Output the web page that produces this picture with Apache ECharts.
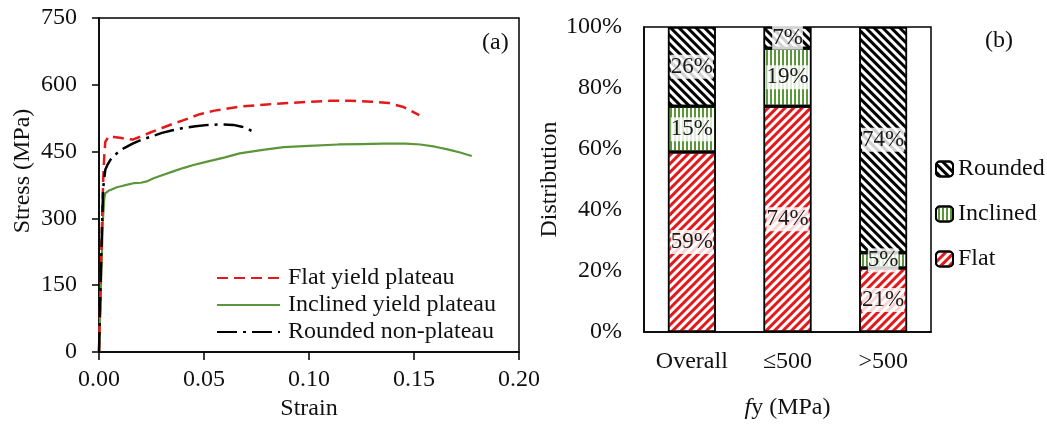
<!DOCTYPE html>
<html>
<head>
<meta charset="utf-8">
<script src="https://cdn.jsdelivr.net/npm/echarts@6/dist/echarts.min.js"></script>
<style>
html,body{margin:0;padding:0;background:#fff;}
#chart{width:1047px;height:427px;}
</style>
</head>
<body>
<div id="chart"></div>
<script>
// ---- Panel (a): stress-strain curves ----
const xTicks = [0, 0.05, 0.10, 0.15, 0.20];
const yTicks = [0, 150, 300, 450, 600, 750];

const flatStrain = [0, 0.0015, 0.002, 0.0025, 0.003, 0.0045, 0.007, 0.010, 0.013, 0.016, 0.020, 0.025, 0.030, 0.035, 0.040, 0.048, 0.055, 0.067, 0.080, 0.090, 0.100, 0.110, 0.120, 0.130, 0.138, 0.145, 0.1525];
const flatStress = [0, 300, 386, 440, 472, 484, 483, 481, 478, 477, 484, 494, 503, 512, 520, 534, 542, 551, 556, 559, 562, 564, 564, 562, 559, 550, 532];

const inclStrain = [0, 0.001, 0.0018, 0.0025, 0.003, 0.0045, 0.006, 0.0085, 0.012, 0.0165, 0.020, 0.0227, 0.026, 0.030, 0.035, 0.040, 0.045, 0.051, 0.060, 0.067, 0.078, 0.088, 0.100, 0.114, 0.125, 0.135, 0.146, 0.153, 0.160, 0.166, 0.172, 0.1775];
const inclStress = [0, 160, 290, 345, 356, 362, 365, 370, 374, 379, 380, 383, 390, 397, 405, 413, 420, 427, 437, 446, 454, 460, 463, 466, 467, 468, 468, 466, 461, 455, 448, 440];

const roundStrain = [0, 0.001, 0.0015, 0.002, 0.0025, 0.003, 0.004, 0.0055, 0.007, 0.009, 0.012, 0.016, 0.020, 0.025, 0.030, 0.035, 0.040, 0.046, 0.052, 0.058, 0.064, 0.068, 0.071, 0.0735];
const roundStress = [0, 200, 290, 368, 390, 409, 420, 432, 440, 448, 458, 468, 476, 484, 492, 498, 503, 507, 510, 511, 510, 506, 501, 494];

const curveNames = ['Flat yield plateau', 'Inclined yield plateau', 'Rounded non-plateau'];

// ---- Panel (b): distribution ----
const groups = ['Overall', '\u2264500', '>500'];
const distTicks = [0, 20, 40, 60, 80, 100];
const flatPct = [59, 74, 21];
const inclinedPct = [15, 19, 5];
const roundedPct = [26, 7, 74];
const barNames = ['Flat', 'Inclined', 'Rounded'];

const FONT = 'Liberation Serif';
const RED = '#e3191c';
const GREEN = '#5b963b';

function pairs(xs, ys) { return xs.map((x, i) => [x, ys[i]]); }

const chart = echarts.init(document.getElementById('chart'), null, {renderer: 'canvas'});

const labelStyle = {
  show: true,
  position: 'inside',
  formatter: p => p.value + '%',
  fontFamily: FONT,
  fontSize: 23,
  color: '#1a1a1a',
  backgroundColor: 'rgba(255,255,255,0.82)',
  padding: [1, 0, 0, 0]
};

function barSeries(name, data, decalColor, rotation, dashY) {
  return {
    name: name,
    type: 'bar',
    stack: 'dist',
    xAxisIndex: 1,
    yAxisIndex: 1,
    barWidth: '50%',
    data: data,
    itemStyle: {
      color: '#ffffff',
      borderColor: '#000',
      borderWidth: 1.5,
      decal: {
        symbol: 'rect',
        symbolSize: 1,
        color: decalColor,
        dashArrayX: [1, 0],
        dashArrayY: dashY,
        rotation: rotation
      }
    },
    label: labelStyle,
    emphasis: {disabled: true}
  };
}

const option = {
  animation: false,
  backgroundColor: '#fff',
  textStyle: {fontFamily: FONT},
  grid: [
    {left: 99, top: 18, width: 420, height: 334, show: true, borderColor: '#000', borderWidth: 1.5, backgroundColor: 'transparent'},
    {left: 644, top: 27, width: 287, height: 305, show: true, borderColor: '#000', borderWidth: 1.5, backgroundColor: 'transparent'}
  ],
  xAxis: [
    {
      gridIndex: 0, type: 'value', min: xTicks[0], max: xTicks[xTicks.length - 1], interval: xTicks[1] - xTicks[0],
      name: 'Strain', nameLocation: 'middle', nameGap: 40,
      nameTextStyle: {fontFamily: FONT, fontSize: 24, color: '#111'},
      axisLine: {show: true, lineStyle: {color: '#000', width: 1.5}},
      axisTick: {show: true, inside: false, length: 8, lineStyle: {color: '#000', width: 1.5}},
      axisLabel: {formatter: v => v.toFixed(2), fontFamily: FONT, fontSize: 24, color: '#111', margin: 16},
      splitLine: {show: false}
    },
    {
      gridIndex: 1, type: 'category', data: groups,
      name: '{i|f}{n|y} (MPa)', nameLocation: 'middle', nameGap: 64,
      nameTextStyle: {fontFamily: FONT, fontSize: 24, color: '#111',
        rich: {i: {fontFamily: FONT, fontSize: 24, fontStyle: 'italic', color: '#111'},
               n: {fontFamily: FONT, fontSize: 24, color: '#111'}}},
      axisLine: {show: true, lineStyle: {color: '#000', width: 1.5}},
      axisTick: {show: false},
      axisLabel: {fontFamily: FONT, fontSize: 24, color: '#111', margin: 18},
      splitLine: {show: false}
    }
  ],
  yAxis: [
    {
      gridIndex: 0, type: 'value', min: yTicks[0], max: yTicks[yTicks.length - 1], interval: yTicks[1] - yTicks[0],
      name: 'Stress (MPa)', nameLocation: 'middle', nameGap: 64,
      nameTextStyle: {fontFamily: FONT, fontSize: 24, color: '#111', padding: [0, 0, 0, 28]},
      axisLine: {show: true, lineStyle: {color: '#000', width: 1.5}},
      axisTick: {show: true, inside: false, length: 7, lineStyle: {color: '#000', width: 1.5}},
      axisLabel: {fontFamily: FONT, fontSize: 24, color: '#111', margin: 22},
      splitLine: {show: false}
    },
    {
      gridIndex: 1, type: 'value', min: distTicks[0], max: distTicks[distTicks.length - 1], interval: distTicks[1] - distTicks[0],
      name: 'Distribution', nameLocation: 'middle', nameGap: 78,
      nameTextStyle: {fontFamily: FONT, fontSize: 24, color: '#111'},
      axisLine: {show: true, lineStyle: {color: '#000', width: 1.5}},
      axisTick: {show: false},
      axisLabel: {formatter: '{value}%', fontFamily: FONT, fontSize: 24, color: '#111', margin: 22},
      splitLine: {show: false}
    }
  ],
  legend: [
    {
      data: curveNames,
      orient: 'vertical',
      left: 216, top: 266, padding: 0,
      itemWidth: 63, itemHeight: 14, itemGap: 3,
      itemStyle: {opacity: 0},
      textStyle: {fontFamily: FONT, fontSize: 24, color: '#111', padding: [0, 0, 0, 3]},
      selectedMode: false
    },
    {
      data: ['Rounded', 'Inclined', 'Flat'],
      orient: 'vertical',
      left: 935, top: 157, padding: 0,
      itemWidth: 17, itemHeight: 15, itemGap: 21,
      textStyle: {fontFamily: FONT, fontSize: 24, color: '#111'},
      selectedMode: false
    }
  ],
  graphic: [
    {type: 'text', left: 482, top: 31, style: {text: '(a)', font: '24px "Liberation Serif"', fill: '#111'}},
    {type: 'text', left: 985, top: 29, style: {text: '(b)', font: '24px "Liberation Serif"', fill: '#111'}}
  ],
  series: [
    {
      name: curveNames[0], type: 'line', xAxisIndex: 0, yAxisIndex: 0, symbol: 'none', z: 4,
      data: pairs(flatStrain, flatStress),
      lineStyle: {color: RED, width: 2.5, type: [11, 6]},
      itemStyle: {color: RED}
    },
    {
      name: curveNames[1], type: 'line', xAxisIndex: 0, yAxisIndex: 0, symbol: 'none', z: 3,
      data: pairs(inclStrain, inclStress),
      lineStyle: {color: GREEN, width: 2.2, type: 'solid'},
      itemStyle: {color: GREEN}
    },
    {
      name: curveNames[2], type: 'line', xAxisIndex: 0, yAxisIndex: 0, symbol: 'none', z: 5,
      data: pairs(roundStrain, roundStress),
      lineStyle: {color: '#000', width: 2.5, type: [20, 6, 3, 6]},
      itemStyle: {color: '#000'}
    },
    barSeries(barNames[0], flatPct, RED, -Math.PI / 4, [2.5, 2.5]),
    barSeries(barNames[1], inclinedPct, GREEN, Math.PI / 2, [2, 2]),
    barSeries(barNames[2], roundedPct, '#000', Math.PI / 4, [2.5, 2.5])
  ]
};

chart.setOption(option);
</script>
</body>
</html>
